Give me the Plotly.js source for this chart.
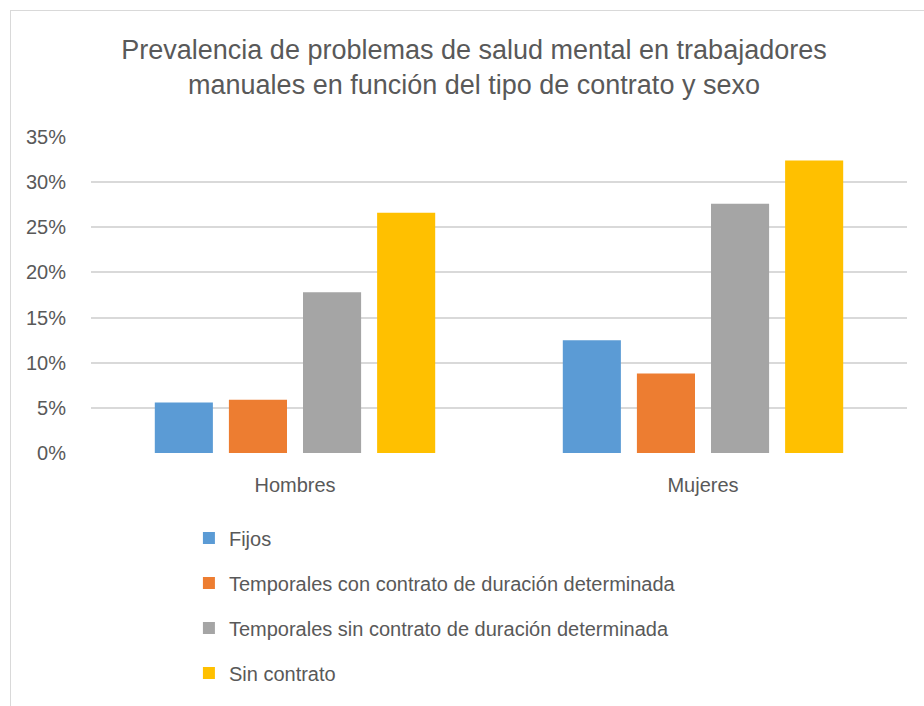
<!DOCTYPE html>
<html>
<head>
<meta charset="utf-8">
<script src="https://cdn.plot.ly/plotly-3.0.1.min.js"></script>
<style>
html,body{margin:0;padding:0;background:#fff;}
#wrap{position:absolute;left:0;top:0;width:924px;height:706px;}
#frame{position:absolute;left:10px;top:10px;width:914px;height:696px;border-left:1px solid #d9d9d9;border-top:1px solid #d9d9d9;pointer-events:none;}
#chart{position:absolute;left:0;top:0;width:924px;height:706px;}
</style>
</head>
<body>
<div id="wrap"><div id="chart"></div><div id="frame"></div></div>
<script>
const categories = ["Hombres", "Mujeres"];
const seriesNames = [
  "Fijos",
  "Temporales con contrato de duración determinada",
  "Temporales sin contrato de duración determinada",
  "Sin contrato"
];
const fijos = [0.056, 0.125];
const temporalesCon = [0.059, 0.088];
const temporalesSin = [0.178, 0.276];
const sinContrato = [0.266, 0.324];
const colors = ["#5b9bd5", "#ed7d31", "#a5a5a5", "#ffc000"];
const yTickVals = [0, 0.05, 0.10, 0.15, 0.20, 0.25, 0.30, 0.35];
const yTickText = ["0%", "5%", "10%", "15%", "20%", "25%", "30%", "35%"];

const seriesValues = [fijos, temporalesCon, temporalesSin, sinContrato];
const font = "Liberation Sans, Arial, sans-serif";
const traces = seriesValues.map((vals, i) => ({
  type: "bar",
  name: seriesNames[i],
  x: categories,
  y: vals,
  legendgroup: "g" + i,
  marker: {color: colors[i], line: {width: 0}},
  hoverinfo: "skip"
}));

const layout = {
  width: 924, height: 706,
  paper_bgcolor: "rgba(0,0,0,0)",
  plot_bgcolor: "#fff",
  margin: {l: 91, r: 17, t: 137, b: 253},
  title: {
    text: "Prevalencia de problemas de salud mental en trabajadores<br>manuales en función del tipo de contrato y sexo",
    font: {family: font, size: 27, color: "#595959"},
    x: 0.513, xanchor: "center", xref: "container",
    y: 0.916, yanchor: "middle"
  },
  barmode: "group",
  bargap: 0.2735,
  bargroupgap: 0.216,
  xaxis: {
    showgrid: false, zeroline: false, showline: false, automargin: false,
    ticks: "", tickfont: {family: font, size: 20, color: "#595959"},
    ticklabelstandoff: 18
  },
  yaxis: {
    range: [0, 0.35], tickvals: yTickVals, ticktext: yTickText, automargin: false,
    showgrid: true, gridcolor: "#d9d9d9", gridwidth: 2,
    zeroline: false, showline: false, ticks: "",
    tickfont: {family: font, size: 20, color: "#595959"},
    ticklabelstandoff: 24
  },
  showlegend: true,
  legend: {
    orientation: "v",
    x: 0.12, xanchor: "left", xref: "paper",
    y: -0.2075, yanchor: "top", yref: "paper",
    font: {family: font, size: 20, color: "#595959"},
    tracegroupgap: 16,
    bgcolor: "rgba(0,0,0,0)",
    traceorder: "grouped"
  }
};

Plotly.newPlot("chart", traces, layout, {displayModeBar: false, staticPlot: true});
</script>
</body>
</html>
